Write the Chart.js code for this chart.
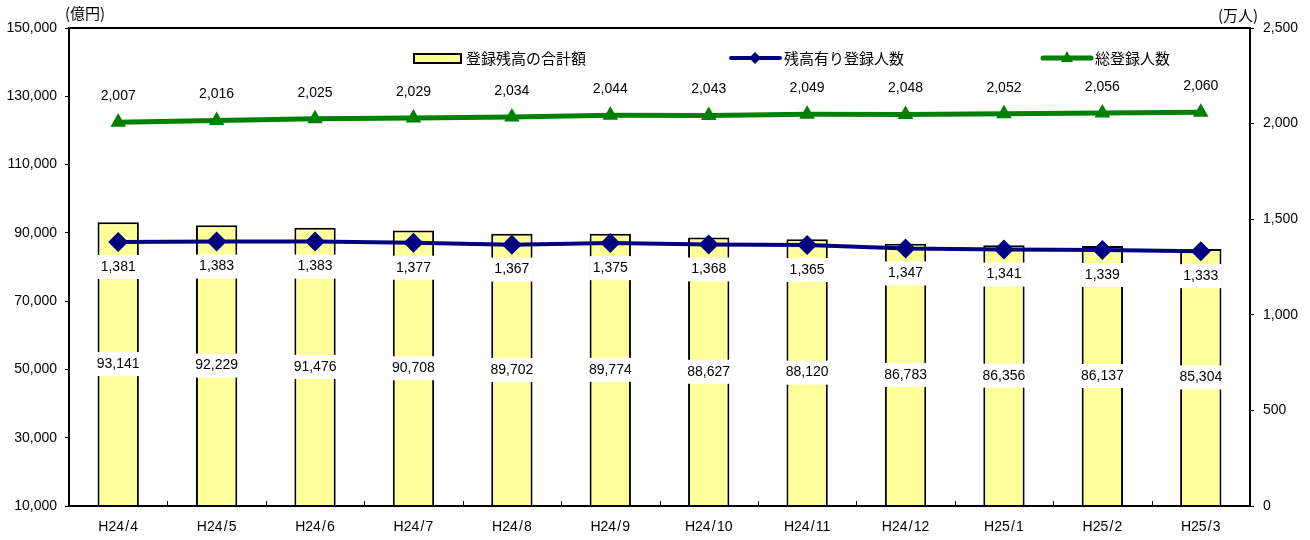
<!DOCTYPE html>
<html><head><meta charset="utf-8">
<script src="https://cdn.jsdelivr.net/npm/chart.js@4/dist/chart.umd.min.js"></script>
<style>html,body{margin:0;padding:0;background:#fff}#wrap{width:1310px;height:540px}</style>
</head><body><div id="wrap"><canvas id="c" width="1310" height="540"></canvas></div>
<script>
const categories = ['H24/4','H24/5','H24/6','H24/7','H24/8','H24/9','H24/10','H24/11','H24/12','H25/1','H25/2','H25/3'];
const balance = [93141,92229,91476,90708,89702,89774,88627,88120,86783,86356,86137,85304];
const withBalance = [1381,1383,1383,1377,1367,1375,1368,1365,1347,1341,1339,1333];
const totalRegistered = [2007,2016,2025,2029,2034,2044,2043,2049,2048,2052,2056,2060];
const seriesNames = ['登録残高の合計額','残高有り登録人数','総登録人数'];
const leftUnit = '(億円)';
const rightUnit = '(万人)';

const NUM_FONT = '14px "Liberation Sans", Arial, sans-serif';
const JP_FONT = '15px "Noto Sans CJK JP", sans-serif';
const fmt = v => v.toLocaleString('en-US');

const decor = {
  id: 'decor',
  afterDatasetsDraw(chart) {
    const ctx = chart.ctx, a = chart.chartArea;
    const x = chart.scales.x;
    ctx.save();
    // frame
    ctx.strokeStyle = '#000'; ctx.lineWidth = 2;
    ctx.strokeRect(a.left, a.top, a.right - a.left, a.bottom - a.top);
    // inward category ticks on bottom axis
    ctx.lineWidth = 1;
    for (let i = 1; i < categories.length; i++) {
      const px = (x.getPixelForValue(i - 1) + x.getPixelForValue(i)) / 2;
      ctx.beginPath(); ctx.moveTo(Math.round(px) + 0.5, a.bottom); ctx.lineTo(Math.round(px) + 0.5, a.bottom - 5); ctx.stroke();
    }
    ctx.font = NUM_FONT; ctx.textAlign = 'center'; ctx.textBaseline = 'middle';
    const label = (txt, cx, cy, box, bw) => {
      const w = bw || ctx.measureText(txt).width + 8;
      if (box) { ctx.fillStyle = '#fff'; ctx.fillRect(cx - w / 2, cy - 12, w, 24); }
      ctx.fillStyle = '#000'; ctx.fillText(txt, cx, cy);
    };
    // bar labels
    const m0 = chart.getDatasetMeta(0);
    m0.data.forEach((b, i) => { label(fmt(balance[i]), b.x, (b.y + Math.min(b.base, a.bottom)) / 2, true, 44); });
    // blue labels
    const m1 = chart.getDatasetMeta(1);
    m1.data.forEach((p, i) => { label(fmt(withBalance[i]), p.x, p.y + 25, true, 42); });
    // green labels
    const m2 = chart.getDatasetMeta(2);
    m2.data.forEach((p, i) => { label(fmt(totalRegistered[i]), p.x, p.y - 26, false); });
    // unit labels
    ctx.font = JP_FONT; ctx.fillStyle = '#000';
    ctx.textAlign = 'left';
    ctx.fillText(leftUnit, 65, 13);
    ctx.fillText(rightUnit, 1218, 15);
    // legend
    const ly = 58;
    ctx.fillStyle = '#FFFF99'; ctx.fillRect(414, ly - 4, 47, 9);
    ctx.strokeStyle = '#000'; ctx.lineWidth = 2; ctx.strokeRect(414, ly - 4, 47, 9);
    ctx.fillStyle = '#000'; ctx.fillText(seriesNames[0], 466, ly);
    ctx.strokeStyle = '#000080'; ctx.lineWidth = 4; ctx.lineCap = 'round';
    ctx.beginPath(); ctx.moveTo(731, ly); ctx.lineTo(780, ly); ctx.stroke();
    ctx.fillStyle = '#000080';
    ctx.beginPath(); ctx.moveTo(755, ly - 6); ctx.lineTo(761, ly); ctx.lineTo(755, ly + 6); ctx.lineTo(749, ly); ctx.closePath(); ctx.fill();
    ctx.fillStyle = '#000'; ctx.fillText(seriesNames[1], 784, ly);
    ctx.strokeStyle = '#008000'; ctx.lineWidth = 5;
    ctx.beginPath(); ctx.moveTo(1043, ly); ctx.lineTo(1091, ly); ctx.stroke();
    ctx.fillStyle = '#008000';
    ctx.beginPath(); ctx.moveTo(1067, ly - 7); ctx.lineTo(1073, ly + 4); ctx.lineTo(1061, ly + 4); ctx.closePath(); ctx.fill();
    ctx.fillStyle = '#000'; ctx.fillText(seriesNames[2], 1095, ly);
    ctx.restore();
  }
};

new Chart(document.getElementById('c'), {
  data: {
    labels: categories,
    datasets: [
      { type: 'bar', label: seriesNames[0], data: balance, yAxisID: 'y', order: 3,
        backgroundColor: '#FFFF99', borderColor: '#000', borderWidth: 2,
        barPercentage: 0.42, categoryPercentage: 1 },
      { type: 'line', label: seriesNames[1], data: withBalance, yAxisID: 'y1', order: 2,
        borderColor: '#000080', backgroundColor: '#000080', borderWidth: 4,
        pointStyle: 'rectRot', pointRadius: 10, pointBorderWidth: 0, tension: 0 },
      { type: 'line', label: seriesNames[2], data: totalRegistered, yAxisID: 'y1', order: 1,
        borderColor: '#008000', backgroundColor: '#008000', borderWidth: 5,
        pointStyle: 'triangle', pointRadius: 9, pointBorderWidth: 0, tension: 0 }
    ]
  },
  options: {
    responsive: false, animation: false,
    layout: { padding: { top: 28, bottom: 0, left: 0, right: 0 } },
    plugins: { legend: { display: false }, tooltip: { enabled: false } },
    scales: {
      x: {
        offset: true,
        grid: { display: false, drawTicks: false },
        border: { display: true, color: '#000', width: 2 },
        ticks: { color: '#000', font: { size: 14, family: '"Liberation Sans", Arial, sans-serif' }, padding: 13, maxRotation: 0,
                 callback: (v, i) => categories[i].replace('/', '\u200A/\u200A') },
        afterFit(s) { s.height = 34; }
      },
      y: {
        position: 'left', min: 10000, max: 150000,
        grid: { drawOnChartArea: false, drawTicks: true, tickLength: 4, color: '#000' },
        border: { display: true, color: '#000', width: 2 },
        ticks: { stepSize: 20000, color: '#000', font: { size: 14, family: '"Liberation Sans", Arial, sans-serif' }, padding: 8,
                 callback: v => fmt(v) },
        afterFit(s) { s.width = 69; }
      },
      y1: {
        position: 'right', min: 0, max: 2500,
        grid: { drawOnChartArea: false, drawTicks: true, tickLength: 4, color: '#000' },
        border: { display: true, color: '#000', width: 2 },
        ticks: { stepSize: 500, color: '#000', font: { size: 14, family: '"Liberation Sans", Arial, sans-serif' }, padding: 9,
                 callback: v => fmt(v) },
        afterFit(s) { s.width = 60; }
      }
    }
  },
  plugins: [decor]
});
</script></body></html>
